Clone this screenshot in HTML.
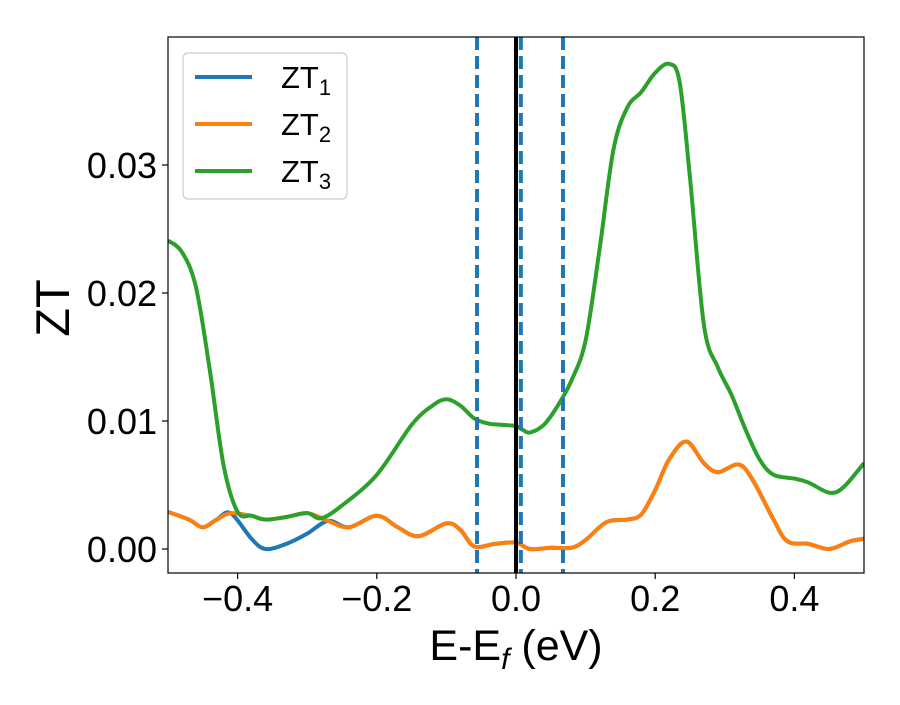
<!DOCTYPE html>
<html><head><meta charset="utf-8"><style>
body{margin:0;background:#fff}
text{font-family:"Liberation Sans","DejaVu Sans",sans-serif;fill:#000}
</style></head><body>
<svg id="chart" width="900" height="700" xmlns="http://www.w3.org/2000/svg"></svg>
<script>
const xTicks=[-0.4,-0.2,0.0,0.2,0.4];
const xTickLabels=["\u22120.4","\u22120.2","0.0","0.2","0.4"];
const yTicks=[0,0.01,0.02,0.03];
const yTickLabels=["0.00","0.01","0.02","0.03"];
const greenX=[-0.5,-0.48,-0.46,-0.44,-0.42,-0.40,-0.38,-0.36,-0.33,-0.30,-0.28,-0.25,-0.2,-0.15,-0.12,-0.10,-0.08,-0.06,-0.04,-0.02,0.0,0.01,0.02,0.04,0.06,0.08,0.10,0.12,0.14,0.16,0.18,0.20,0.22,0.235,0.25,0.27,0.29,0.31,0.33,0.35,0.37,0.40,0.42,0.45,0.47,0.5];
const greenY=[0.0241,0.0232,0.0205,0.0140,0.0065,0.0029,0.0026,0.0023,0.0025,0.0028,0.0024,0.0034,0.0058,0.0097,0.0112,0.0117,0.0112,0.0102,0.0098,0.0097,0.0096,0.0093,0.0091,0.0097,0.0112,0.0132,0.0163,0.0234,0.0312,0.0345,0.0357,0.0372,0.0379,0.0365,0.0290,0.0175,0.0142,0.0120,0.0093,0.0070,0.0058,0.0055,0.0052,0.0044,0.0048,0.0067];
const orangeX=[-0.5,-0.47,-0.45,-0.43,-0.41,-0.38,-0.36,-0.33,-0.30,-0.27,-0.24,-0.20,-0.17,-0.14,-0.10,-0.08,-0.06,-0.03,0.0,0.02,0.05,0.08,0.10,0.13,0.16,0.18,0.20,0.22,0.245,0.27,0.29,0.32,0.34,0.37,0.39,0.42,0.45,0.48,0.5];
const orangeY=[0.0029,0.0023,0.0017,0.0023,0.0028,0.0026,0.0023,0.0025,0.0028,0.0022,0.0017,0.0026,0.0017,0.0010,0.0020,0.0015,0.0002,0.0004,0.0005,0.0,0.0001,0.0001,0.0007,0.0021,0.0023,0.0027,0.0046,0.0070,0.0084,0.0067,0.0060,0.0066,0.0054,0.0023,0.0006,0.0004,0.0,0.0006,0.0008];
const blueY=[0.0029,0.0023,0.0017,0.0023,0.0028,0.0008,0.0,0.0004,0.0012,0.0022,0.0017,0.0026,0.0017,0.0010,0.0020,0.0015,0.0002,0.0004,0.0005,0.0,0.0001,0.0001,0.0007,0.0021,0.0023,0.0027,0.0046,0.0070,0.0084,0.0067,0.0060,0.0066,0.0054,0.0023,0.0006,0.0004,0.0,0.0006,0.0008];
const dashedX=[-0.056,0.007,0.0675];
const fermiX=[0.0];

const L=168,R=864,T=37,B=573;
const xs=v=>L+(v+0.5)*(R-L);
const ys=v=>549-v*12800;
const svg=document.getElementById('chart');
const NS='http://www.w3.org/2000/svg';
function mk(tag,attrs,parent){const e=document.createElementNS(NS,tag);for(const k in attrs)e.setAttribute(k,attrs[k]);(parent||svg).appendChild(e);return e;}
const defs=mk('defs',{});const cp=mk('clipPath',{id:'clip'},defs);mk('rect',{x:L,y:T,width:R-L,height:B-T},cp);
function smooth(X,Y){const p=X.map((x,i)=>[xs(x),ys(Y[i])]);let d='M'+p[0][0]+','+p[0][1];
for(let i=0;i<p.length-1;i++){const p0=p[Math.max(0,i-1)],p1=p[i],p2=p[i+1],p3=p[Math.min(p.length-1,i+2)];
d+=' C'+(p1[0]+(p2[0]-p0[0])/6)+','+(p1[1]+(p2[1]-p0[1])/6)+' '+(p2[0]-(p3[0]-p1[0])/6)+','+(p2[1]-(p3[1]-p1[1])/6)+' '+p2[0]+','+p2[1];}return d;}
const g=mk('g',{'clip-path':'url(#clip)'});
let e;
e=mk('path',{d:smooth(orangeX,blueY),fill:'none',stroke:'#1f77b4','stroke-width':4,'stroke-linejoin':'round'},g);


e=mk('path',{d:smooth(orangeX,orangeY),fill:'none',stroke:'#ff7f0e','stroke-width':4,'stroke-linejoin':'round'},g);


e=mk('path',{d:smooth(greenX,greenY),fill:'none',stroke:'#2ca02c','stroke-width':4,'stroke-linejoin':'round'},g);


fermiX.forEach(v=>{e=mk('line',{x1:xs(v),x2:xs(v),y1:T,y2:B,stroke:'#000','stroke-width':4},g);

});
dashedX.forEach(v=>{e=mk('line',{x1:xs(v),x2:xs(v),y1:T,y2:B,stroke:'#1f77b4','stroke-width':4,'stroke-dasharray':'13,6'},g);

});
e=mk('rect',{x:L,y:T,width:R-L,height:B-T,fill:'none',stroke:'#000','stroke-width':1.2});


xTicks.forEach((v,i)=>{mk('line',{x1:xs(v),x2:xs(v),y1:B,y2:B+6,stroke:'#000','stroke-width':1.2});
e=mk('text',{x:xs(v),y:B+38,'text-anchor':'middle','font-size':36});e.textContent=xTickLabels[i];

});
yTicks.forEach((v,i)=>{mk('line',{x1:L-6,x2:L,y1:ys(v),y2:ys(v),stroke:'#000','stroke-width':1.2});
e=mk('text',{x:L-11,y:ys(v)+13,'text-anchor':'end','font-size':36});e.textContent=yTickLabels[i];

});
e=mk('text',{x:516,y:660,'text-anchor':'middle','font-size':43});
e.innerHTML='E-E<tspan font-style="italic" font-size="30" dy="9">f</tspan><tspan dy="-9"> (eV)</tspan>';


e=mk('text',{x:0,y:0,'text-anchor':'middle','font-size':47,transform:'translate(69,308) rotate(-90)'});e.textContent='ZT';


const lg=mk('g',{});


mk('rect',{x:183,y:53,width:164,height:146,rx:5,fill:'#fff',stroke:'#ccc','stroke-width':1.2},lg);
[['#1f77b4','1'],['#ff7f0e','2'],['#2ca02c','3']].forEach((s,i)=>{const y=77+i*47;
mk('line',{x1:195,x2:252,y1:y,y2:y,stroke:s[0],'stroke-width':4},lg);
const t=mk('text',{x:281,y:y+11,'font-size':31},lg);t.innerHTML='ZT<tspan font-size="22" dy="7">'+s[1]+'</tspan>';

});
</script>
</body></html>
